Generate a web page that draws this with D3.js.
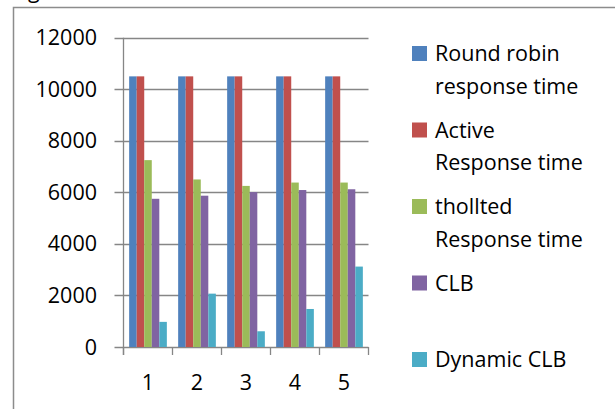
<!DOCTYPE html>
<html>
<head>
<meta charset="utf-8">
<script src="https://cdn.jsdelivr.net/npm/d3@7"></script>
<style>
  body { margin: 0; background: #fff; }
  svg { display: block; font-family: "Open Sans", sans-serif; }
</style>
</head>
<body>
<svg id="chart"></svg>
<script>
// data
var categories = ["1", "2", "3", "4", "5"]
var seriesNames = ["Round robin response time", "Active Response time", "thollted Response time", "CLB", "Dynamic CLB"]
var legendLines = [["Round robin", "response time"], ["Active", "Response time"], ["thollted", "Response time"], ["CLB"], ["Dynamic CLB"]]
var roundRobin = [10500, 10500, 10500, 10500, 10500]
var active = [10500, 10500, 10500, 10500, 10500]
var thollted = [7250, 6500, 6250, 6380, 6380]
var clb = [5750, 5870, 6010, 6090, 6120]
var dynamicClb = [975, 2070, 610, 1475, 3120]
var yTicks = [0, 2000, 4000, 6000, 8000, 10000, 12000]
var colors = ["#4F81BD", "#C0504D", "#9BBB59", "#8064A2", "#4BACC6"]

var seriesValues = [roundRobin, active, thollted, clb, dynamicClb]

var screen = {width: 615, height: 409}
var plot = {left: 123.5, right: 368.5, top: 37.7, bottom: 347}
var fontSize = 21.5

var svg = d3.select("#chart")
    .attr("width", screen.width)
    .attr("height", screen.height)

// outer frame (only top and left edges visible)
svg.append("path")
    .attr("d", "M13.5," + screen.height + "V7.5H" + screen.width)
    .attr("fill", "none")
    .attr("stroke", "#8c8c8c")
    .attr("stroke-width", 1.5)

// cut-off caption above the frame
svg.append("text")
    .attr("x", 28)
    .attr("y", -2)
    .attr("font-size", fontSize)
    .attr("fill", "#000")
    .text("g")

var xScale = d3.scaleBand()
    .domain(categories)
    .range([plot.left, plot.right])
    .padding(0)

var inner = d3.scaleBand()
    .domain(d3.range(seriesNames.length))
    .range([0, xScale.bandwidth()])
    .paddingInner(0)
    .paddingOuter(0.75)

var yScale = d3.scaleLinear()
    .domain([0, 12000])
    .range([plot.bottom, plot.top])

// gridlines + y ticks
svg.append("g")
    .selectAll("line")
    .data(yTicks)
    .enter()
    .append("line")
    .attr("x1", plot.left - 9)
    .attr("x2", plot.right)
    .attr("y1", function(d) { return Math.round(yScale(d)) + 0.5 })
    .attr("y2", function(d) { return Math.round(yScale(d)) + 0.5 })
    .attr("stroke", "#868686")
    .attr("stroke-width", 1.3)

svg.append("g")
    .selectAll("text")
    .data(yTicks)
    .enter()
    .append("text")
    .attr("x", 97)
    .attr("y", function(d) { return yScale(d) })
    .attr("dy", "0.35em")
    .attr("text-anchor", "end")
    .attr("font-size", fontSize)
    .attr("fill", "#000")
    .text(function(d) { return d })

// bars
var groups = svg.append("g")
    .selectAll("g")
    .data(seriesValues)
    .enter()
    .append("g")
    .attr("fill", function(d, i) { return colors[i] })

groups.each(function(values, si) {
    d3.select(this)
        .selectAll("rect")
        .data(values)
        .enter()
        .append("rect")
        .attr("x", function(v, ci) { return xScale(categories[ci]) + inner(si) })
        .attr("width", inner.bandwidth())
        .attr("y", function(v) { return yScale(v) })
        .attr("height", function(v) { return yScale(0) - yScale(v) })
})

// axes lines
svg.append("line")
    .attr("x1", plot.left).attr("x2", plot.left)
    .attr("y1", plot.top).attr("y2", plot.bottom + 8)
    .attr("stroke", "#868686")
    .attr("stroke-width", 1.3)

var xAxis = d3.axisBottom(xScale).tickSize(0).tickPadding(0)
var xg = svg.append("g")
    .attr("transform", "translate(0," + plot.bottom + ")")
    .call(xAxis)
xg.select(".domain").remove()
xg.selectAll("text")
    .attr("y", 43)
    .attr("dy", 0)
    .attr("font-size", fontSize)
    .attr("font-family", "Open Sans, sans-serif")
    .attr("fill", "#000")

svg.append("g")
    .selectAll("line")
    .data(d3.range(categories.length + 1))
    .enter()
    .append("line")
    .attr("x1", function(i) { return plot.left + i * xScale.step() })
    .attr("x2", function(i) { return plot.left + i * xScale.step() })
    .attr("y1", plot.bottom)
    .attr("y2", plot.bottom + 8)
    .attr("stroke", "#868686")
    .attr("stroke-width", 1.3)

// legend
var legend = svg.append("g")
    .selectAll("g")
    .data(seriesNames)
    .enter()
    .append("g")
    .attr("transform", function(d, i) { return "translate(412," + (46 + i * 76.5) + ")" })

legend.append("rect")
    .attr("width", 15)
    .attr("height", 15)
    .attr("fill", function(d, i) { return colors[i] })

legend.append("text")
    .attr("x", 23)
    .attr("font-size", fontSize)
    .attr("fill", "#000")
    .selectAll("tspan")
    .data(function(d, i) { return legendLines[i] })
    .enter()
    .append("tspan")
    .attr("x", 23)
    .attr("y", function(d, j) { return 15 + j * 32.6 })
    .text(function(d) { return d })
</script>
</body>
</html>
